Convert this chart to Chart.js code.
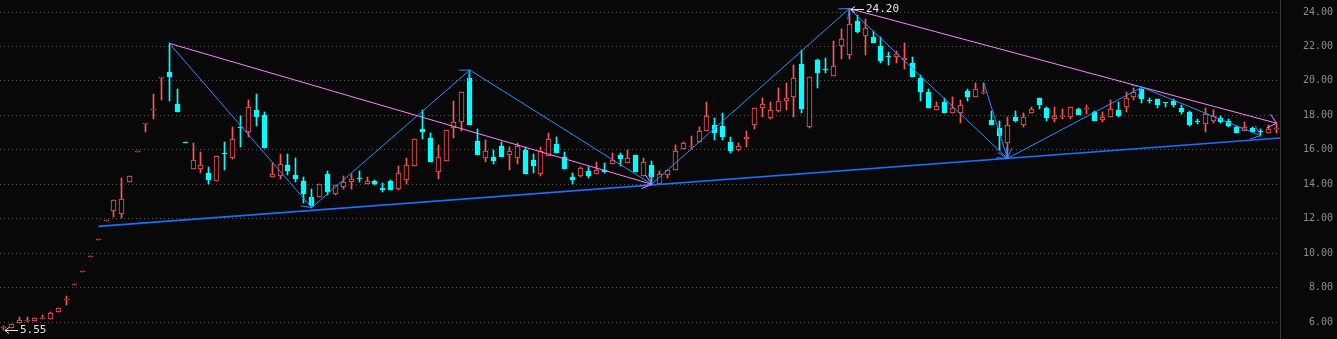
<!DOCTYPE html>
<html>
<head>
<meta charset="utf-8">
<script src="https://cdn.jsdelivr.net/npm/chart.js@4.4.1/dist/chart.umd.min.js"></script>
<style>
  html, body { margin: 0; padding: 0; background: #080808; }
  #wrap { width: 1337px; height: 339px; }
</style>
</head>
<body>
<div id="wrap"><canvas id="kline"></canvas></div>
<script>
// daily candles, one per trading day
const candleOpen = [
  5.65, 5.67, 5.92, 6.06, 6.07, 6.20, 6.19, 6.56, 7.30, 8.12,
  8.93, 9.80, 10.79, 11.88, 12.46, 12.29, 14.15, 15.89, 17.47, 18.30,
  20.14, 20.52, 18.66, 16.38, 14.90, 14.90, 14.65, 14.20, 15.80, 15.54,
  17.27, 17.01, 18.31, 18.02, 14.44, 14.49, 15.12, 14.53, 14.19, 13.26,
  13.26, 14.59, 13.43, 13.84, 14.15, 14.31, 14.03, 14.19, 13.80, 14.19,
  13.74, 14.26, 15.08, 17.21, 16.67, 14.69, 15.36, 17.28, 17.63, 20.15,
  16.51, 15.54, 15.56, 16.20, 15.71, 15.54, 15.99, 15.41, 14.61, 15.66,
  16.32, 15.56, 14.42, 14.49, 14.77, 14.57, 14.84, 15.19, 15.70, 15.25,
  15.68, 14.49, 15.10, 14.03, 14.51, 14.81, 16.03, 16.19, 16.43, 17.07,
  17.42, 17.36, 16.45, 16.00, 16.61, 17.46, 18.41, 17.86, 18.23, 18.81,
  19.08, 20.96, 17.34, 21.19, 20.68, 20.27, 22.01, 21.49, 23.46, 22.59,
  22.53, 22.01, 21.41, 21.37, 21.19, 21.02, 20.19, 19.34, 18.29, 18.76,
  18.12, 18.12, 19.40, 19.08, 19.31, 17.73, 17.26, 16.37, 17.90, 17.46,
  18.12, 18.99, 18.41, 17.77, 17.93, 17.88, 18.37, 18.34, 18.18, 17.71,
  17.88, 18.29, 18.47, 19.05, 19.51, 18.88, 18.93, 18.71, 18.81, 18.41,
  18.18, 17.64, 17.48, 17.69, 17.86, 17.69, 17.34, 17.09, 17.28, 17.06,
  16.96, 17.21
];
const candleHigh = [
  5.76, 5.86, 6.27, 6.27, 6.23, 6.40, 6.60, 6.79, 7.51, 8.13,
  8.94, 9.81, 10.80, 11.89, 13.10, 14.36, 14.46, 15.90, 17.49, 19.24,
  20.15, 22.18, 19.53, 16.38, 16.41, 15.87, 14.98, 15.62, 16.45, 17.32,
  17.96, 18.87, 19.24, 18.19, 15.23, 15.75, 15.75, 15.52, 14.42, 13.74,
  14.01, 14.77, 13.95, 14.48, 14.59, 14.77, 14.42, 14.24, 14.07, 14.24,
  15.06, 15.52, 16.61, 18.31, 16.96, 16.28, 17.13, 18.83, 19.34, 20.63,
  17.19, 16.57, 15.99, 16.43, 16.14, 16.38, 16.14, 15.75, 16.14, 16.96,
  16.72, 15.85, 14.65, 15.02, 14.98, 15.27, 15.21, 15.79, 15.79, 15.99,
  15.68, 15.52, 15.33, 14.77, 14.81, 16.28, 16.45, 16.80, 17.32, 18.76,
  17.84, 18.12, 16.72, 16.38, 17.09, 18.41, 18.99, 18.76, 19.57, 19.86,
  20.90, 21.78, 20.21, 21.25, 21.31, 22.30, 23.00, 24.20, 23.83, 23.59,
  22.88, 22.53, 21.66, 21.72, 22.18, 21.37, 20.34, 19.51, 18.76, 18.99,
  19.05, 18.87, 19.51, 19.86, 19.90, 18.27, 17.65, 17.88, 18.23, 18.12,
  18.47, 18.99, 18.50, 18.50, 18.35, 18.47, 18.43, 18.60, 18.25, 18.18,
  18.87, 18.77, 19.34, 19.57, 19.63, 19.01, 18.93, 18.71, 18.95, 18.58,
  18.23, 17.77, 18.41, 18.33, 17.94, 17.77, 17.40, 17.63, 17.34, 17.22,
  17.46, 17.51
];
const candleLow = [
  5.55, 5.67, 5.92, 6.00, 6.07, 6.20, 6.19, 6.56, 7.00, 8.12,
  8.93, 9.80, 10.79, 11.88, 12.11, 12.02, 14.15, 15.89, 17.05, 17.79,
  18.89, 18.83, 18.21, 16.37, 14.90, 14.67, 14.03, 14.20, 14.82, 15.45,
  16.16, 16.76, 17.40, 16.12, 14.44, 14.30, 14.55, 14.15, 12.89, 12.64,
  13.26, 13.37, 13.37, 13.72, 13.72, 14.13, 14.03, 13.98, 13.57, 13.68,
  13.68, 14.01, 15.08, 16.64, 15.31, 14.32, 15.36, 16.70, 17.11, 17.46,
  15.71, 15.31, 15.19, 15.60, 14.84, 15.19, 14.61, 14.67, 14.49, 15.66,
  15.83, 14.90, 14.03, 14.40, 14.38, 14.57, 14.67, 15.19, 15.08, 15.25,
  14.71, 14.49, 14.00, 14.03, 14.38, 14.81, 16.03, 16.04, 16.43, 17.07,
  16.57, 16.57, 15.81, 15.95, 16.18, 17.22, 17.92, 17.80, 18.18, 18.33,
  17.92, 18.15, 17.28, 19.60, 20.44, 20.27, 21.25, 21.25, 22.76, 21.49,
  22.22, 21.02, 20.94, 21.02, 20.71, 20.21, 18.85, 18.44, 18.29, 18.15,
  18.12, 17.54, 18.81, 19.08, 19.22, 17.46, 15.99, 15.50, 17.61, 17.34,
  18.12, 18.35, 17.69, 17.61, 17.80, 17.79, 18.00, 18.10, 17.69, 17.63,
  17.88, 17.92, 18.18, 18.89, 18.73, 18.70, 18.41, 18.47, 18.50, 18.10,
  17.40, 17.50, 17.05, 17.57, 17.57, 17.34, 16.99, 17.09, 17.05, 16.82,
  16.96, 16.96
];
const candleClose = [
  5.67, 5.86, 6.11, 6.08, 6.21, 6.21, 6.50, 6.79, 7.33, 8.13,
  8.94, 9.81, 10.80, 11.89, 13.08, 13.14, 14.46, 15.90, 17.49, 18.32,
  20.15, 20.24, 18.21, 16.37, 15.41, 15.10, 14.26, 15.62, 15.78, 16.61,
  17.25, 18.47, 17.92, 16.12, 14.57, 15.15, 14.77, 14.30, 13.43, 12.75,
  14.01, 13.55, 13.95, 14.13, 14.30, 14.29, 14.19, 14.01, 13.68, 13.68,
  14.63, 15.10, 16.61, 17.05, 15.31, 15.56, 17.13, 17.59, 19.34, 17.46,
  15.71, 15.91, 15.33, 15.60, 15.91, 16.22, 14.61, 15.08, 15.95, 16.61,
  15.83, 14.90, 14.26, 14.94, 14.49, 14.81, 14.71, 15.42, 15.46, 15.50,
  14.71, 15.27, 14.44, 14.57, 14.81, 15.91, 16.37, 16.21, 17.07, 17.94,
  16.99, 16.76, 15.95, 16.20, 16.72, 18.41, 18.64, 18.29, 18.81, 18.99,
  20.15, 18.38, 20.21, 20.48, 20.66, 20.85, 22.41, 23.29, 22.86, 23.05,
  22.22, 21.17, 21.39, 21.54, 21.31, 20.21, 19.37, 18.44, 18.54, 18.15,
  18.41, 18.58, 19.08, 19.55, 19.33, 17.46, 16.82, 17.42, 17.67, 17.88,
  18.35, 18.62, 17.82, 17.94, 17.95, 18.47, 18.00, 18.36, 17.69, 17.88,
  18.35, 17.98, 18.99, 19.34, 18.93, 18.86, 18.58, 18.70, 18.58, 18.18,
  17.46, 17.62, 18.10, 17.96, 17.63, 17.40, 16.99, 17.34, 17.05, 17.04,
  17.22, 17.23
];

const tickValues = [6, 8, 10, 12, 14, 16, 18, 20, 22, 24];

// drawn trend lines: candle index / price pairs
const zigzagIdx = [21, 39, 59, 82, 107, 127, 144, 159];
const zigzagVal = [22.18, 12.64, 20.63, 14.00, 24.20, 15.50, 19.63, 16.82];
const dropIdx = [124, 127];
const dropVal = [19.90, 15.50];
const upperAIdx = [21, 82];
const upperAVal = [22.18, 14.00];
const upperBIdx = [107, 161.05];
const upperBVal = [24.20, 17.54];
const supportIdx = [12.01, 161.47];
const supportVal = [11.555, 16.68];

const RED = '#ff5555';
const CYAN = '#00ffff';
const BG = '#080808';

const rising = candleOpen.map((o, i) => candleClose[i] >= o);
const pts = (xs, ys) => xs.map((x, i) => ({ x, y: ys[i] }));

const background = {
  id: 'background',
  beforeDraw(chart) {
    const ctx = chart.ctx;
    ctx.save();
    ctx.fillStyle = BG;
    ctx.fillRect(0, 0, chart.width, chart.height);
    ctx.restore();
  }
};

// snap candle bodies and wicks to whole pixels so they stay sharp
const pixelSnap = {
  id: 'pixelSnap',
  beforeDatasetsDraw(chart) {
    chart.data.datasets.forEach((ds, i) => {
      const meta = chart.getDatasetMeta(i);
      if (meta.type !== 'bar') return;
      meta.data.forEach(el => {
        el.x = Math.floor(el.x) + 0.5;
        const top = Math.round(Math.min(el.y, el.base));
        let bot = Math.round(Math.max(el.y, el.base));
        if (bot - top < 1) bot = top + 1;
        el.y = top;
        el.base = bot;
      });
    });
  }
};

// small arrow heads at the end of each drawn segment
const arrowHeads = {
  id: 'arrowHeads',
  afterDatasetsDraw(chart) {
    const ctx = chart.ctx;
    chart.data.datasets.forEach((ds, i) => {
      if (!ds.arrow) return;
      const els = chart.getDatasetMeta(i).data;
      ctx.save();
      ctx.strokeStyle = ds.borderColor;
      ctx.lineWidth = 1;
      for (let j = 1; j < els.length; j++) {
        const a = els[j - 1], b = els[j];
        const ang = Math.atan2(b.y - a.y, b.x - a.x);
        ctx.beginPath();
        [-0.7, 0.7].forEach(d => {
          ctx.moveTo(b.x, b.y);
          ctx.lineTo(b.x - 11 * Math.cos(ang + d), b.y - 11 * Math.sin(ang + d));
        });
        ctx.stroke();
      }
      ctx.restore();
    });
  }
};

// "<- 24.20" style markers on the highest high and lowest low
const extremeLabels = {
  id: 'extremeLabels',
  afterDatasetsDraw(chart) {
    const { ctx, scales: { x, y } } = chart;
    const hi = Math.max(...candleHigh);
    const lo = Math.min(...candleLow);
    ctx.save();
    ctx.strokeStyle = '#e6e6e6';
    ctx.fillStyle = '#e6e6e6';
    ctx.lineWidth = 1;
    ctx.font = '11px "DejaVu Sans Mono"';
    ctx.textBaseline = 'middle';
    [[candleHigh.indexOf(hi), hi], [candleLow.indexOf(lo), lo]].forEach(([i, v]) => {
      const tip = Math.round(x.getPixelForValue(i)) + 2;
      const py = Math.round(y.getPixelForValue(v)) + 0.5;
      ctx.beginPath();
      ctx.moveTo(tip + 4, py - 3);
      ctx.lineTo(tip, py);
      ctx.lineTo(tip + 4, py + 3);
      ctx.moveTo(tip, py);
      ctx.lineTo(tip + 13, py);
      ctx.stroke();
      ctx.fillText(v.toFixed(2), tip + 15, py);
    });
    ctx.restore();
  }
};

new Chart(document.getElementById('kline'), {
  type: 'bar',
  data: {
    datasets: [
      {
        type: 'line', order: 0, data: pts(supportIdx, supportVal),
        borderColor: '#1a6fff', borderWidth: 1.6, pointRadius: 0
      },
      {
        type: 'line', order: 0, data: pts(zigzagIdx, zigzagVal),
        borderColor: '#2b8cff', borderWidth: 1, pointRadius: 0, arrow: true
      },
      {
        type: 'line', order: 0, data: pts(dropIdx, dropVal),
        borderColor: '#2b8cff', borderWidth: 1, pointRadius: 0, arrow: true
      },
      {
        type: 'line', order: 0, data: pts(upperAIdx, upperAVal),
        borderColor: '#ff80ff', borderWidth: 1, pointRadius: 0, arrow: true
      },
      {
        type: 'line', order: 0, data: pts(upperBIdx, upperBVal),
        borderColor: '#ff80ff', borderWidth: 1, pointRadius: 0, arrow: true
      },
      {
        order: 1, grouped: false,
        data: candleOpen.map((o, i) => ({ x: i, y: [o, candleClose[i]] })),
        backgroundColor: rising.map(r => r ? BG : CYAN),
        borderColor: rising.map(r => r ? RED : CYAN),
        borderWidth: 1, borderSkipped: false, barThickness: 5, minBarLength: 1
      },
      {
        order: 2, grouped: false,
        data: candleLow.map((l, i) => ({ x: i, y: [l, candleHigh[i]] })),
        backgroundColor: rising.map(r => r ? RED : CYAN),
        borderWidth: 0, barThickness: 1, minBarLength: 1
      }
    ]
  },
  options: {
    responsive: true,
    maintainAspectRatio: false,
    animation: false,
    layout: { padding: { left: 0, top: 0, bottom: 0, right: 4 } },
    plugins: {
      legend: { display: false },
      tooltip: { enabled: false }
    },
    scales: {
      x: { type: 'linear', min: -0.417, max: 161.47, offset: false, display: false },
      y: {
        position: 'right',
        min: 5.013,
        max: 24.697,
        afterBuildTicks: s => { s.ticks = tickValues.map(v => ({ value: v })); },
        afterFit: s => { s.width = 53; s.paddingTop = 0; s.paddingBottom = 0; },
        grid: { color: '#555', lineWidth: 1, drawTicks: false },
        border: { display: true, color: '#3a3a3a', dash: [1, 3] },
        ticks: {
          color: '#8c8c8c',
          padding: 14,
          crossAlign: 'far',
          font: { family: 'DejaVu Sans Mono', size: 10 },
          callback: v => v.toFixed(2)
        }
      }
    }
  },
  plugins: [background, pixelSnap, arrowHeads, extremeLabels]
});
</script>
</body>
</html>
